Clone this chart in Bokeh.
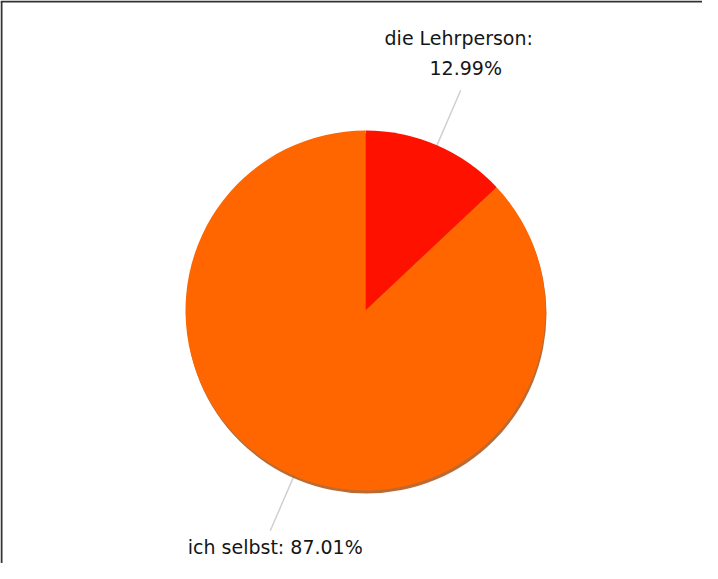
import numpy as np
from bokeh.plotting import figure
from bokeh.models import Range1d
from bokeh.core.properties import value
from bokeh.embed import file_html
from bokeh.resources import INLINE

categories = ["die Lehrperson", "ich selbst"]
percents = [12.99, 87.01]
colors = ["#ff1100", "#ff6600"]

W, H = 702, 563
p = figure(width=W, height=H, output_backend="svg", toolbar_location=None,
           x_range=Range1d(0, W), y_range=Range1d(0, H), min_border=0)
p.axis.visible = False
p.grid.visible = False
p.outline_line_color = None
p.background_fill_color = "white"
p.border_fill_color = "white"

cx, cy, r = 365, 253, 180

frac = np.array(percents) / 100.0
ang = frac * 2 * np.pi
ends = np.pi / 2 - np.concatenate([[0], np.cumsum(ang)[:-1]])
starts = ends - ang
mids = (starts + ends) / 2

# leader lines
r1, r2 = 175, 240
lx0 = cx + r1 * np.cos(mids); ly0 = cy + r1 * np.sin(mids)
lx1 = cx + r2 * np.cos(mids); ly1 = cy + r2 * np.sin(mids)
p.segment(x0=list(lx0), y0=list(ly0), x1=list(lx1), y1=list(ly1),
          line_color="#d0d0d0", line_width=1.5)

# shadow
p.circle(x=[cx + 1], y=[cy - 3], radius=r, fill_color="#a94600",
         line_color=None, fill_alpha=0.8)

p.wedge(x=[cx] * 2, y=[cy] * 2, radius=r, start_angle=list(starts),
        end_angle=list(ends), fill_color=colors, line_color=None)

font = value("DejaVu Sans")
fs = "19px"
tc = "#151515"
# labels
p.text(x=[lx1[0] - 2], y=[526], text=[categories[0] + ":"], text_font=font,
       text_font_size=fs, text_align="center", text_baseline="middle",
       text_color=tc)
p.text(x=[lx1[0] + 5], y=[495.5], text=[f"{percents[0]:.2f}%"], text_font=font,
       text_font_size=fs, text_align="center", text_baseline="middle",
       text_color=tc)
p.text(x=[lx1[1] + 5], y=[17], text=[f"{categories[1]}: {percents[1]:.2f}%"],
       text_font=font, text_font_size=fs, text_align="center",
       text_baseline="middle", text_color=tc)

# frame (left and top edges)
p.line(x=[1, 1], y=[0, H - 1], line_color="#333333", line_width=2)
p.line(x=[0, W], y=[H - 1, H - 1], line_color="#333333", line_width=2)

open("out.html", "w").write(file_html(p, INLINE))
